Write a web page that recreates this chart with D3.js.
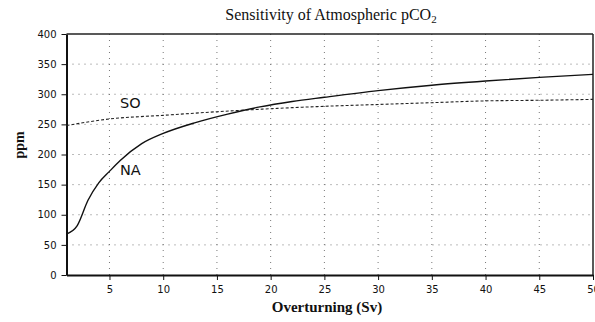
<!DOCTYPE html>
<html>
<head>
<meta charset="utf-8">
<script src="https://cdn.jsdelivr.net/npm/d3@7"></script>
<style>
  body { margin: 0; background: #fff; }
  svg { display: block; }
</style>
</head>
<body>
<div id="chart"></div>
<script>
// Data
const naOverturning = [1, 2, 3, 4, 5, 6, 8, 10, 13, 16, 19, 22, 25, 30, 35, 40, 45, 50];
const naPco2 = [68, 82, 124, 153, 172, 190, 218, 235, 253, 267, 279, 288, 295, 306, 315, 322, 328, 333];
const soOverturning = [1, 5, 10, 15, 20, 25, 30, 35, 40, 45, 50];
const soPco2 = [248, 259, 265, 271, 276, 280, 283, 286, 289, 290, 291.5];
const xTicks = [5, 10, 15, 20, 25, 30, 35, 40, 45, 50];
const yTicks = [0, 50, 100, 150, 200, 250, 300, 350, 400];

const width = 595, height = 322;
const margin = { top: 34, right: 2, bottom: 47, left: 66.5 };
const sans = 'DejaVu Sans, Verdana, sans-serif';
const serif = 'Liberation Serif, Times New Roman, serif';

const svg = d3.select('#chart')
    .append('svg')
    .attr('width', width)
    .attr('height', height);

const x = d3.scaleLinear()
    .domain([1, 50])
    .range([margin.left, width - margin.right]);

const y = d3.scaleLinear()
    .domain([0, 400])
    .range([height - margin.bottom, margin.top]);

// Grid lines (dotted)
const grid = svg.append('g').attr('stroke', '#777').attr('stroke-width', 1).attr('stroke-dasharray', '1,5');
grid.selectAll('.vg')
    .data(xTicks.filter(d => d < 50))
    .join('line')
    .attr('x1', d => x(d)).attr('x2', d => x(d))
    .attr('y1', y(0)).attr('y2', y(400));
grid.selectAll('.hg')
    .data(yTicks.filter(d => d > 0 && d < 400))
    .join('line')
    .attr('x1', x(1)).attr('x2', x(50))
    .attr('y1', d => y(d)).attr('y2', d => y(d));

// Frame top & right
svg.append('line')
    .attr('x1', x(1)).attr('x2', x(50))
    .attr('y1', y(400)).attr('y2', y(400))
    .attr('stroke', '#222').attr('stroke-width', 1.5);
svg.append('line')
    .attr('x1', x(50)).attr('x2', x(50))
    .attr('y1', y(400)).attr('y2', y(0))
    .attr('stroke', '#222').attr('stroke-width', 1.5);

// Axes
const xAxis = d3.axisBottom(x).tickValues(xTicks).tickSize(5).tickSizeOuter(0);
const yAxis = d3.axisLeft(y).tickValues(yTicks).tickSize(5).tickSizeOuter(0);

const gx = svg.append('g')
    .attr('transform', `translate(0,${y(0)})`)
    .call(xAxis);
gx.select('.domain').attr('stroke', '#111').attr('stroke-width', 2);
gx.selectAll('.tick line').attr('stroke', '#111');
gx.selectAll('text')
    .attr('dy', '0.95em')
    .style('font-family', sans)
    .style('font-size', '10px')
    .attr('fill', '#111');

const gy = svg.append('g')
    .attr('transform', `translate(${x(1)},0)`)
    .call(yAxis);
gy.select('.domain').attr('stroke', '#111').attr('stroke-width', 2);
gy.selectAll('.tick line').attr('stroke', '#111');
gy.selectAll('text')
    .attr('x', -10)
    .style('font-family', sans)
    .style('font-size', '10px')
    .attr('fill', '#111');

// Curves
const line = d3.line()
    .x(d => x(d[0]))
    .y(d => y(d[1]))
    .curve(d3.curveMonotoneX);

svg.append('path')
    .datum(soOverturning.map((d, i) => [d, soPco2[i]]))
    .attr('fill', 'none')
    .attr('stroke', '#222')
    .attr('stroke-width', 1.1)
    .attr('stroke-dasharray', '3,2')
    .attr('d', line);

svg.append('path')
    .datum(naOverturning.map((d, i) => [d, naPco2[i]]))
    .attr('fill', 'none')
    .attr('stroke', '#111')
    .attr('stroke-width', 1.4)
    .attr('d', line);

// Curve labels
svg.append('text')
    .attr('x', 120).attr('y', 108)
    .style('font-family', sans)
    .style('font-size', '14.5px')
    .attr('fill', '#111')
    .text('SO');
svg.append('text')
    .attr('x', 120).attr('y', 175)
    .style('font-family', sans)
    .style('font-size', '14.5px')
    .attr('fill', '#111')
    .text('NA');

// Title
const title = svg.append('text')
    .attr('x', 331).attr('y', 20)
    .attr('text-anchor', 'middle')
    .style('font-family', serif)
    .style('font-size', '16px')
    .attr('fill', '#111');
title.append('tspan').text('Sensitivity of Atmospheric pCO');
title.append('tspan').attr('dy', 3).style('font-size', '11px').text('2');

// Axis titles
svg.append('text')
    .attr('x', 327).attr('y', 312)
    .attr('text-anchor', 'middle')
    .style('font-family', serif)
    .style('font-size', '15px')
    .style('font-weight', 'bold')
    .attr('fill', '#111')
    .text('Overturning (Sv)');

svg.append('text')
    .attr('transform', 'translate(24,145) rotate(-90)')
    .attr('text-anchor', 'middle')
    .style('font-family', serif)
    .style('font-size', '14px')
    .style('font-weight', 'bold')
    .attr('fill', '#111')
    .text('ppm');
</script>
</body>
</html>
